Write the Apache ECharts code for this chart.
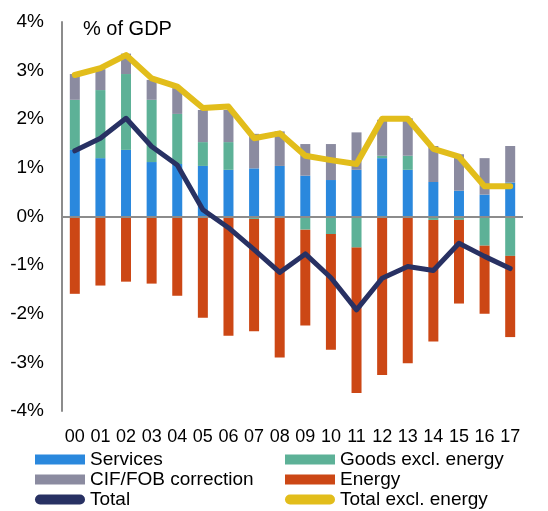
<!DOCTYPE html>
<html>
<head>
<meta charset="utf-8">
<script src="https://cdn.jsdelivr.net/npm/echarts@6/dist/echarts.min.js"></script>
<style>
  html, body { margin: 0; padding: 0; background: #fff; }
  #chart { width: 548px; height: 511px; }
</style>
</head>
<body>
<div id="chart"></div>
<script>
// years on the x axis
var years = ["00","01","02","03","04","05","06","07","08","09","10","11","12","13","14","15","16","17"];

// stacked components, % of GDP
var services = [1.37,1.20,1.37,1.12,1.08,1.04,0.96,0.99,1.04,0.84,0.75,0.96,1.20,0.96,0.71,0.53,0.45,0.70];
var goods    = [1.03,1.40,1.56,1.28,1.03,0.49,0.57,-0.05,0,-0.27,-0.36,-0.64,0.05,0.29,-0.07,-0.07,-0.60,-0.81];
var cifFob   = [0.53,0.43,0.42,0.41,0.53,0.66,0.66,0.71,0.71,0.65,0.74,0.77,0.74,0.77,0.74,0.75,0.75,0.75];
var energy   = [-1.59,-1.42,-1.34,-1.38,-1.63,-2.08,-2.45,-2.31,-2.90,-1.97,-2.38,-2.99,-3.26,-3.02,-2.50,-1.72,-1.40,-1.67];

// lines
var total          = [1.35,1.61,2.02,1.44,1.06,0.14,-0.23,-0.68,-1.15,-0.77,-1.26,-1.92,-1.27,-1.03,-1.11,-0.55,-0.82,-1.07];
var totalExEnergy  = [2.91,3.05,3.32,2.84,2.67,2.23,2.26,1.61,1.71,1.25,1.16,1.08,2.01,2.01,1.39,1.23,0.62,0.62];

var font = "Liberation Sans, Arial, sans-serif";
var capsule = "path://M5,0 H45 A5,5 0 0 1 45,10 H5 A5,5 0 0 1 5,0 Z";

var chart = echarts.init(document.getElementById("chart"));

function barSeries(name, data, color) {
  return {
    name: name,
    type: "bar",
    stack: "parts",
    barWidth: 10,
    data: data,
    itemStyle: { color: color },
    emphasis: { disabled: true },
  };
}

function legendBlock(left, items) {
  return {
    orient: "vertical",
    left: left,
    top: 450,
    height: 80,
    padding: 0,
    itemWidth: 50,
    itemHeight: 10,
    itemGap: 1,
    itemTextGap: 5,
    textStyle: { fontFamily: font, fontSize: 19, color: "#000", lineHeight: 19 },
    data: items,
  };
}

var energyBars = barSeries("Energy", energy, "#cc4715");
// zero line across the plot
energyBars.markLine = {
  silent: true,
  symbol: "none",
  label: { show: false },
  lineStyle: { color: "#8c8c8c", width: 2, type: "solid" },
  data: [{ yAxis: 0 }],
};

chart.setOption({
  animation: false,
  textStyle: { fontFamily: font },
  title: {
    text: "% of GDP",
    left: 78,
    top: 14,
    textStyle: { fontFamily: font, fontSize: 20, fontWeight: "normal", color: "#000" },
  },
  legend: [
    legendBlock(35, [
      { name: "Services", icon: "rect" },
      { name: "CIF/FOB correction", icon: "rect" },
      { name: "Total", icon: capsule },
    ]),
    legendBlock(285, [
      { name: "Goods excl. energy", icon: "rect" },
      { name: "Energy", icon: "rect" },
      { name: "Total excl. energy", icon: capsule },
    ]),
  ],
  grid: { left: 62, right: 25, top: 22, bottom: 100 },
  xAxis: {
    type: "category",
    data: years,
    axisLine: { show: false, onZero: false },
    axisTick: { show: false },
    axisLabel: { interval: 0, fontFamily: font, fontSize: 18, color: "#000", margin: 17 },
  },
  yAxis: {
    type: "value",
    min: -4,
    max: 4,
    interval: 1,
    axisLine: { show: true, lineStyle: { color: "#8c8c8c", width: 2 } },
    axisTick: { show: false },
    splitLine: { show: false },
    axisLabel: { formatter: "{value}%", fontFamily: font, fontSize: 19, color: "#000", margin: 18 },
  },
  series: [
    barSeries("Services", services, "#2a88dd"),
    barSeries("Goods excl. energy", goods, "#5db197"),
    barSeries("CIF/FOB correction", cifFob, "#8b8ba0"),
    energyBars,
    {
      name: "Total",
      type: "line",
      data: total,
      showSymbol: false,
      lineStyle: { color: "#283163", width: 5, cap: "round", join: "round" },
      itemStyle: { color: "#283163" },
      z: 5,
    },
    {
      name: "Total excl. energy",
      type: "line",
      data: totalExEnergy,
      showSymbol: false,
      lineStyle: { color: "#e2bd1b", width: 6, cap: "round", join: "round" },
      itemStyle: { color: "#e2bd1b" },
      z: 5,
    },
  ],
});
</script>
</body>
</html>
